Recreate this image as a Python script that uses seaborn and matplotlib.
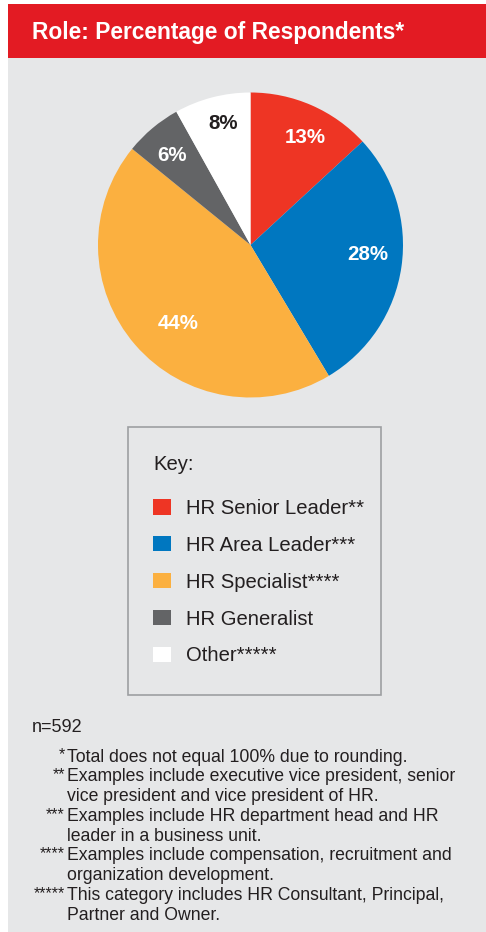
import matplotlib
matplotlib.use("Agg")
import matplotlib.pyplot as plt
import seaborn as sns
import numpy as np
from matplotlib.patches import Rectangle, Patch

# ---- data ----
roles = ["HR Senior Leader**", "HR Area Leader***", "HR Specialist****", "HR Generalist", "Other*****"]
shares = [13, 28, 44, 6, 8]
pct_labels = ["13%", "28%", "44%", "6%", "8%"]
title = "Role: Percentage of Respondents*"
legend_title = "Key:"
sample_note = "n=592"
foot_marks = ["*", "**", "***", "****", "*****"]
foot_texts = [
    ["Total does not equal 100% due to rounding."],
    ["Examples include executive vice president, senior", "vice president and vice president of HR."],
    ["Examples include HR department head and HR", "leader in a business unit."],
    ["Examples include compensation, recruitment and", "organization development."],
    ["This category includes HR Consultant, Principal,", "Partner and Owner."],
]

# ---- style ----
sns.set_theme(style="white")
plt.rcParams["font.family"] = ["Liberation Sans", "DejaVu Sans"]
palette = sns.color_palette(["#ee3524", "#0077c0", "#fbb040", "#636466", "#ffffff"])
label_colors = ["white", "white", "white", "white", "#231f20"]
label_dist = [0.79, 0.77, 0.70, 0.78, 0.82]
label_angle_shift = [-3.2, 3.3, 6.2, 1.1, -1.8]
bg = "#e6e7e8"
header_red = "#e31b23"
text_col = "#231f20"

W, H = 486, 932
fig = plt.figure(figsize=(W / 100, H / 100), dpi=100)
fig.patch.set_facecolor("white")

def fx(x):
    return x / W

def fy(y):
    return 1 - y / H

# background panel and header
fig.patches.append(Rectangle((fx(8), fy(H)), fx(W - 8), (H - 58) / H, transform=fig.transFigure,
                             facecolor=bg, edgecolor="none", zorder=-2))
fig.patches.append(Rectangle((fx(8), fy(58)), fx(W - 8), 54 / H, transform=fig.transFigure,
                             facecolor=header_red, edgecolor="none", zorder=-2))
fig.text(fx(32), fy(32), title, color="white", fontsize=16.4, fontweight="bold",
         ha="left", va="center")

# pie
cx, cy, R = 250.5, 245, 152.5
ax = fig.add_axes([fx(cx - R), fy(cy + R), 2 * R / W, 2 * R / H])
ax.set_zorder(2)
ax.set_facecolor("none")
wedges, _ = ax.pie(shares, colors=palette, startangle=90, counterclock=False,
                   radius=1, wedgeprops=dict(linewidth=0))
for w, lab, col, d, sh in zip(wedges, pct_labels, label_colors, label_dist, label_angle_shift):
    mid = np.deg2rad((w.theta1 + w.theta2) / 2 + sh)
    ax.text(d * np.cos(mid), d * np.sin(mid), lab, color=col, fontsize=14.8,
            fontweight="bold", ha="center", va="center")
ax.set_xlim(-1, 1)
ax.set_ylim(-1, 1)
ax.axis("off")

# legend box
fig.patches.append(Rectangle((fx(128), fy(695)), (381 - 128) / W, (695 - 427) / H,
                             transform=fig.transFigure, facecolor="none",
                             edgecolor="#9d9fa2", linewidth=1.2, zorder=1))
handles = [Patch(facecolor=c, edgecolor="none") for c in palette]
leg = fig.legend(handles, roles, title=legend_title, loc="upper left",
                 bbox_to_anchor=(fx(153), fy(455)), frameon=False, fontsize=14.6,
                 title_fontsize=14.6, alignment="left", handlelength=0.89,
                 handleheight=0.79, labelspacing=0.88, handletextpad=0.72,
                 borderpad=0, borderaxespad=0)
for t in leg.get_texts():
    t.set_color(text_col)
leg.get_title().set_color(text_col)
leg._legend_box.sep = 18

# footnotes
fig.text(fx(32), fy(727), sample_note, fontsize=13, color=text_col, ha="left", va="center")
y = 757
step = 19.8
for mark, lines in zip(foot_marks, foot_texts):
    fig.text(fx(65), fy(y - 2), mark, fontsize=11.5, color=text_col, ha="right", va="center")
    for line in lines:
        fig.text(fx(67), fy(y), line, fontsize=12.7, color=text_col, ha="left", va="center")
        y += step

fig.savefig("out.png", dpi=100, facecolor=fig.get_facecolor())
